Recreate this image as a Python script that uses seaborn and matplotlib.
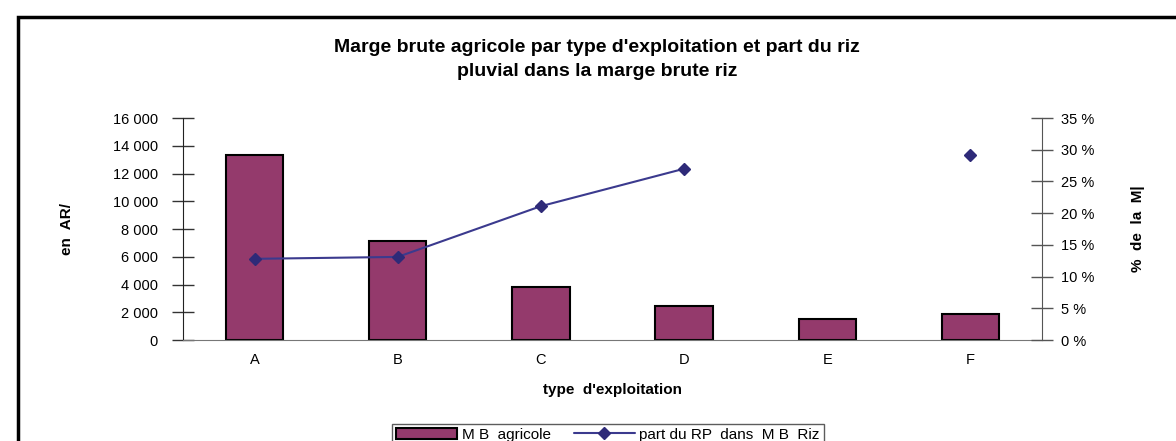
import pandas as pd
import numpy as np
import matplotlib
matplotlib.use("Agg")
import matplotlib.pyplot as plt
import seaborn as sns
from matplotlib.patches import Rectangle, Patch
from matplotlib.lines import Line2D

# data
types = ["A", "B", "C", "D", "E", "F"]
mb_agricole = [13350, 7100, 3850, 2450, 1550, 1850]
part_rp = [12.8, 13.1, 21.1, 27.0, np.nan, 29.2]

left_ticks = [0, 2000, 4000, 6000, 8000, 10000, 12000, 14000, 16000]
right_ticks = [0, 5, 10, 15, 20, 25, 30, 35]

bar_color = "#943A6C"
line_color = "#3B3A8E"
marker_color = "#2E2A78"

df = pd.DataFrame({"type": types, "mb": mb_agricole, "part": part_rp})

sns.set_style("white")
plt.rcParams["font.family"] = ["Liberation Sans", "DejaVu Sans"]
plt.rcParams["text.color"] = "black"
plt.rcParams["axes.labelcolor"] = "black"
plt.rcParams["xtick.labelcolor"] = "black"
plt.rcParams["ytick.labelcolor"] = "black"

fig = plt.figure(figsize=(11.76, 4.41), dpi=100)
ax = fig.add_axes([0.1556, 0.229, 0.7304, 0.5034])

sns.barplot(data=df, x="type", y="mb", color=bar_color, width=0.4,
            edgecolor="black", linewidth=1.5, saturation=1, ax=ax)

ax.set_xlim(-0.5, 5.5)
ax.set_ylim(0, 16000)
ax.set_yticks(left_ticks)
ax.set_yticklabels([f"{v:,}".replace(",", " ") for v in left_ticks], fontsize=10.5)
ax.tick_params(axis="y", direction="inout", length=16, width=1, color="#333333", pad=10)
ax.set_xticks(range(len(types)))
ax.set_xticklabels(types, fontsize=10.5)
ax.tick_params(axis="x", which="major", length=0, pad=9)
ax.set_xticks(np.arange(0.5, 5.5, 1), minor=True)
ax.tick_params(axis="x", which="minor", direction="inout", length=14, color="#333333")
ax.set_xlabel("type  d'exploitation", fontsize=11, fontweight="bold", labelpad=12)
ax.set_ylabel("en  AR/", fontsize=11, fontweight="bold", labelpad=28)
for s in ["top", "right"]:
    ax.spines[s].set_visible(False)
ax.spines["left"].set_color("#222222")
ax.spines["bottom"].set_color("#777777")

ax2 = ax.twinx()
ax2.plot(range(len(types)), df["part"], color=line_color, linewidth=1.5,
         marker="D", markersize=6, markerfacecolor=marker_color,
         markeredgecolor=marker_color)
ax2.set_ylim(0, 35)
ax2.set_yticks(right_ticks)
ax2.set_yticklabels([f"{v} %" for v in right_ticks], fontsize=10.5)
ax2.tick_params(axis="y", direction="inout", length=16, width=1, color="#555555", pad=6)
ax2.set_ylabel("%  de  la  M|", fontsize=11, fontweight="bold", labelpad=26)
for s in ["top", "left", "bottom"]:
    ax2.spines[s].set_visible(False)
ax2.spines["right"].set_color("#555555")

fig.suptitle("Marge brute agricole par type d'exploitation et part du riz\npluvial dans la marge brute riz",
             x=0.508, y=0.912, fontsize=14, fontweight="bold", linespacing=1.55)

handles = [Patch(facecolor=bar_color, edgecolor="black", linewidth=1.5),
           Line2D([0], [0], color=line_color, linewidth=1.5, marker="D",
                  markersize=6, markerfacecolor=marker_color, markeredgecolor=marker_color)]
leg = fig.legend(handles, ["M B  agricole", "part du RP  dans  M B  Riz"],
                 loc="upper center", bbox_to_anchor=(0.517, 0.056), ncol=2,
                 fontsize=11, frameon=True, fancybox=False, edgecolor="#333333",
                 handlelength=4, handletextpad=0.3, columnspacing=1.5, borderpad=0.25)
leg.get_frame().set_linewidth(1)

# outer chart frame
fig.patches.append(Rectangle((0.0153, -0.2), 1.2, 1.1615, transform=fig.transFigure,
                             fill=False, edgecolor="black", linewidth=2.5))

fig.savefig("out.png", dpi=100)
